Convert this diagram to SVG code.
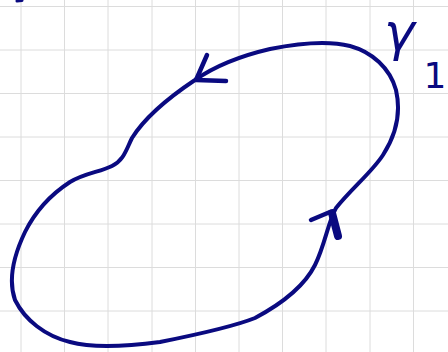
<svg xmlns="http://www.w3.org/2000/svg" width="448" height="352" viewBox="0 0 448 352">
<style>
.grid line{stroke:#dcdcdc;stroke-width:1}
.ink{fill:none;stroke:#0a0a80;stroke-linecap:round;stroke-linejoin:round}
.lbl{font-family:"DejaVu Sans",sans-serif;fill:#0a0a80}
</style>
<rect width="448" height="352" fill="#ffffff"/>
<g class="grid">
<line x1="21" y1="0" x2="21" y2="352"/><line x1="64.5" y1="0" x2="64.5" y2="352"/><line x1="108" y1="0" x2="108" y2="352"/><line x1="152" y1="0" x2="152" y2="352"/><line x1="195.5" y1="0" x2="195.5" y2="352"/><line x1="239" y1="0" x2="239" y2="352"/><line x1="282.5" y1="0" x2="282.5" y2="352"/><line x1="326" y1="0" x2="326" y2="352"/><line x1="370" y1="0" x2="370" y2="352"/><line x1="413.5" y1="0" x2="413.5" y2="352"/>
<line x1="0" y1="6.5" x2="448" y2="6.5"/><line x1="0" y1="50" x2="448" y2="50"/><line x1="0" y1="93.5" x2="448" y2="93.5"/><line x1="0" y1="137" x2="448" y2="137"/><line x1="0" y1="180.5" x2="448" y2="180.5"/><line x1="0" y1="224" x2="448" y2="224"/><line x1="0" y1="267.5" x2="448" y2="267.5"/><line x1="0" y1="311" x2="448" y2="311"/>
</g>
<g id="mark"><path class="ink" stroke-width="3" d="M17,1 L22,0.5"/></g>
<g id="curve">
<path class="ink" stroke-width="4" d="M195,80 C215,66 240,56 270,49 C300,43 330,41 350,46 C372,52 390,68 396,90 C401,112 396,135 383,155 C372,172 352,188 336,208 C328,222 325,245 315,265 C305,285 285,302 255,318 C230,328 190,336 160,342 C130,346 95,349 70,342 C45,336 25,320 15,300 C8,280 14,255 25,232 C35,212 50,195 70,182 C85,173 100,172 112,166 C124,160 126,150 132,138 C142,122 162,102 195,80 Z"/>
</g>
<g id="arrows">
<path class="ink" stroke-width="4.5" d="M207,55 L196,80 L226,81"/>
<path class="ink" stroke-width="4.5" d="M311,220 L330,212"/>
<path class="ink" stroke-width="8" d="M332,213 L338,236"/>
</g>
<g id="label">
<text class="lbl" x="384" y="50" font-size="52" font-style="italic">γ</text>
<text class="lbl" x="435" y="88" font-size="36" text-anchor="middle">1</text>
</g>
</svg>
